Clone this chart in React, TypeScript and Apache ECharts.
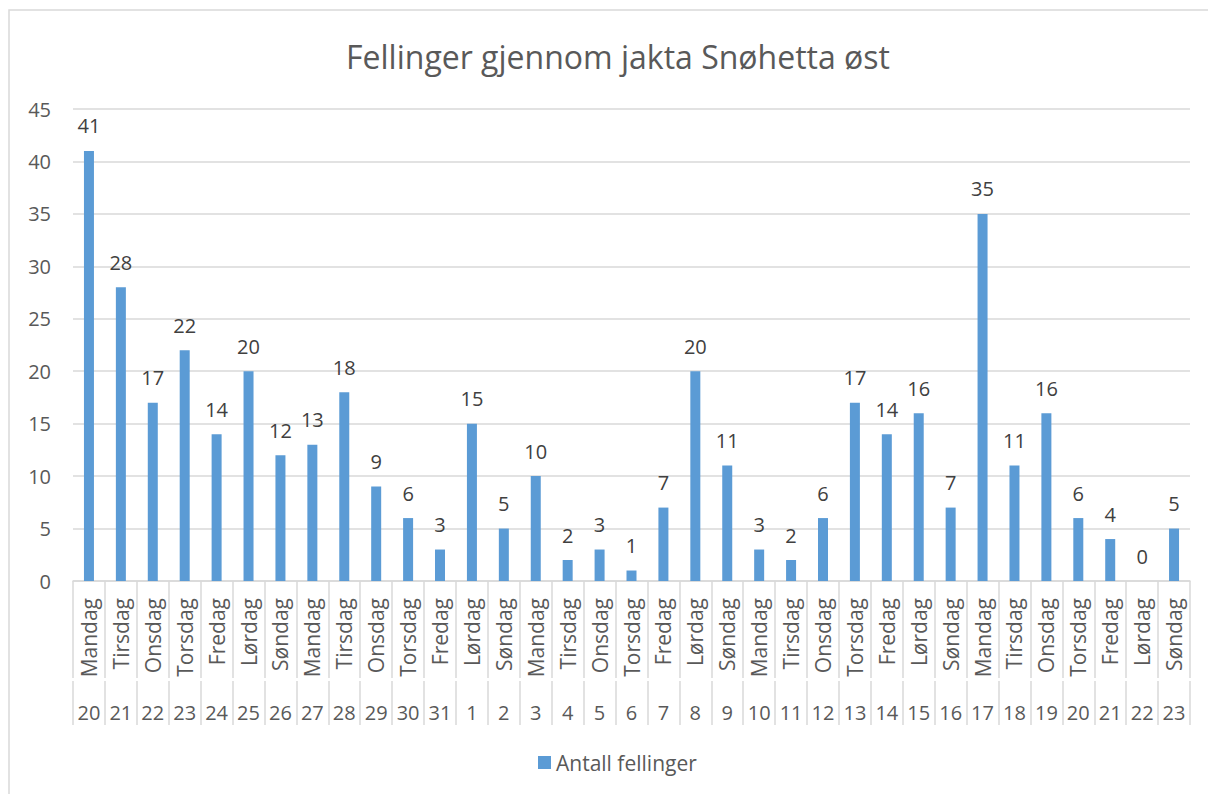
import React, { useEffect, useRef } from "react";
import * as echarts from "echarts";

const weekdays = [
  "Mandag", "Tirsdag", "Onsdag", "Torsdag", "Fredag", "Lørdag", "Søndag",
  "Mandag", "Tirsdag", "Onsdag", "Torsdag", "Fredag", "Lørdag", "Søndag",
  "Mandag", "Tirsdag", "Onsdag", "Torsdag", "Fredag", "Lørdag", "Søndag",
  "Mandag", "Tirsdag", "Onsdag", "Torsdag", "Fredag", "Lørdag", "Søndag",
  "Mandag", "Tirsdag", "Onsdag", "Torsdag", "Fredag", "Lørdag", "Søndag",
];
const dates = [
  "20", "21", "22", "23", "24", "25", "26", "27", "28", "29", "30", "31",
  "1", "2", "3", "4", "5", "6", "7", "8", "9", "10", "11", "12", "13", "14",
  "15", "16", "17", "18", "19", "20", "21", "22", "23",
];
const fellinger = [
  41, 28, 17, 22, 14, 20, 12, 13, 18, 9, 6, 3,
  15, 5, 10, 2, 3, 1, 7, 20, 11, 3, 2, 6, 17, 14, 16, 7, 35, 11, 16, 6, 4, 0, 5,
];
const titleText = "Fellinger gjennom jakta Snøhetta øst";
const seriesName = "Antall fellinger";

const FONT = "'Open Sans', 'Noto Sans', sans-serif";
const GRID = "#d9d9d9";
const TXT = "#595959";

export default function App() {
  const ref = useRef<HTMLDivElement>(null);
  useEffect(() => {
    if (!ref.current) return;
    const chart = echarts.init(ref.current, null, { renderer: "svg" });
    chart.setOption({
      animation: false,
      backgroundColor: "#ffffff",
      textStyle: { fontFamily: FONT },
      title: {
        text: titleText,
        left: 613,
        textAlign: "center",
        top: 35,
        textStyle: { fontFamily: FONT, fontSize: 32, fontWeight: "normal", color: TXT },
      },
      graphic: [
        {
          type: "rect",
          shape: { x: 9, y: 10, width: 1260, height: 900 },
          style: { fill: "none", stroke: GRID, lineWidth: 1.5 },
          silent: true,
        },
      ],
      legend: {
        left: 533,
        top: 747,
        icon: "rect",
        itemWidth: 13,
        itemHeight: 13,
        itemGap: 6,
        textStyle: { fontFamily: FONT, fontSize: 21, color: TXT },
        data: [seriesName],
      },
      grid: { left: 73, right: 18, top: 109, bottom: 213, containLabel: false },
      xAxis: [
        {
          type: "category",
          data: weekdays,
          position: "bottom",
          axisLine: { show: true, lineStyle: { color: GRID, width: 1.5 } },
          axisTick: { show: true, interval: 0, length: 97, lineStyle: { color: GRID, width: 1.5 } },
          axisLabel: {
            interval: 0,
            rotate: 90,
            margin: 17,
            fontFamily: FONT,
            fontSize: 21,
            color: TXT,
          },
        },
        {
          type: "category",
          data: dates,
          position: "bottom",
          offset: 100,
          axisLine: { show: false },
          axisTick: { show: true, interval: 0, length: 44, lineStyle: { color: GRID, width: 1.5 } },
          axisLabel: {
            interval: 0,
            margin: 21,
            fontFamily: FONT,
            fontSize: 20,
            color: TXT,
          },
        },
      ],
      yAxis: {
        type: "value",
        min: 0,
        max: 45,
        interval: 5,
        axisLine: { show: false },
        axisTick: { show: false },
        splitLine: { lineStyle: { color: GRID, width: 1.5 } },
        axisLabel: { margin: 22, fontFamily: FONT, fontSize: 20, color: TXT },
      },
      series: [
        {
          name: seriesName,
          type: "bar",
          xAxisIndex: 0,
          data: fellinger,
          barWidth: 10,
          itemStyle: { color: "#5b9bd5" },
          label: {
            show: true,
            position: "top",
            distance: 15,
            fontFamily: FONT,
            fontSize: 20,
            color: "#404040",
          },
        },
      ],
    });
    return () => chart.dispose();
  }, []);
  return (
    <div
      ref={ref}
      style={{ position: "absolute", left: 0, top: 0, width: 1208, height: 794 }}
    />
  );
}
